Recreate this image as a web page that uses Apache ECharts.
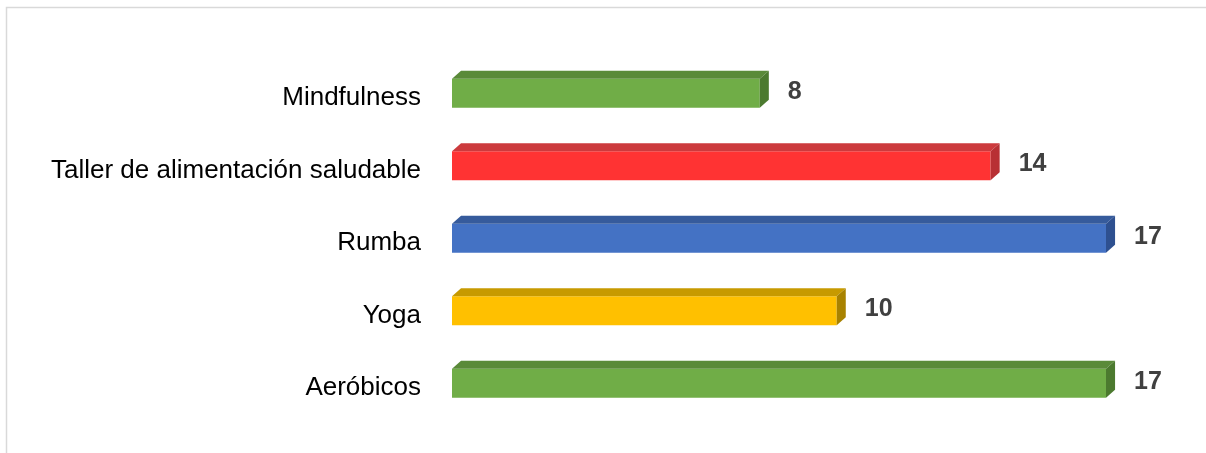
<!DOCTYPE html>
<html>
<head>
<meta charset="utf-8">
<script src="https://cdn.jsdelivr.net/npm/echarts@6/dist/echarts.min.js"></script>
<style>
  html, body { margin: 0; padding: 0; background: #ffffff; }
  #chart { width: 1206px; height: 453px; }
</style>
</head>
<body>
<div id="chart"></div>
<script>
// Activities and number of participants
const categories = ['Mindfulness', 'Taller de alimentación saludable', 'Rumba', 'Yoga', 'Aeróbicos'];
const participants = [8, 14, 17, 10, 17];

// Face colours for each bar: front, top, side
const frontColors = ['#70ad47', '#ff3333', '#4472c4', '#ffc000', '#70ad47'];
const topColors   = ['#5a8a39', '#cc3a3d', '#365b9c', '#c79a00', '#5a8a39'];
const sideColors  = ['#4c7a2f', '#b83034', '#2e5090', '#a88200', '#4c7a2f'];

const chart = echarts.init(document.getElementById('chart'));

function renderBar(params, api) {
  const v = api.value(0);
  const idx = api.value(1);
  const start = api.coord([0, idx]);
  const end = api.coord([v, idx]);
  const band = api.size([0, 1])[1];
  const cy = start[1];
  const x0 = start[0];
  const x1 = end[0];
  const top = cy - band * 0.265;
  const bot = cy + band * 0.135;
  const dx = band * 0.125;
  const dy = band * 0.11;
  const i = params.dataIndex;
  return {
    type: 'group',
    children: [
      {
        type: 'polygon',
        shape: { points: [[x0, top], [x1, top], [x1, bot], [x0, bot]] },
        style: { fill: frontColors[i] }
      },
      {
        type: 'polygon',
        shape: { points: [[x0, top], [x0 + dx, top - dy], [x1 + dx, top - dy], [x1, top]] },
        style: { fill: topColors[i] }
      },
      {
        type: 'polygon',
        shape: { points: [[x1, top], [x1 + dx, top - dy], [x1 + dx, bot - dy], [x1, bot]] },
        style: { fill: sideColors[i] }
      },
      {
        type: 'text',
        x: x1 + dx + 19,
        y: cy - band * 0.085,
        style: {
          text: String(v),
          fill: '#404040',
          font: 'bold 25px "Liberation Sans", Arial, sans-serif',
          align: 'left',
          verticalAlign: 'middle'
        }
      }
    ]
  };
}

chart.setOption({
  backgroundColor: '#ffffff',
  animation: false,
  graphic: [{
    type: 'rect',
    shape: { x: 6.5, y: 7.5, width: 1215, height: 470 },
    style: { fill: 'none', stroke: '#d9d9d9', lineWidth: 1.5 },
    silent: true
  }],
  grid: { left: 452, top: 61.75, width: 654, height: 362.5 },
  xAxis: {
    type: 'value',
    min: 0,
    max: 17,
    show: false
  },
  yAxis: {
    type: 'category',
    data: categories,
    inverse: true,
    axisLine: { show: false },
    axisTick: { show: false },
    splitLine: { show: false },
    axisLabel: {
      margin: 31,
      color: '#000000',
      fontSize: 26,
      padding: [4, 0, 0, 0],
      fontFamily: '"Liberation Sans", Arial, sans-serif'
    }
  },
  series: [{
    type: 'custom',
    renderItem: renderBar,
    encode: { x: 0, y: 1 },
    data: participants.map((v, i) => [v, i])
  }]
});
</script>
</body>
</html>
